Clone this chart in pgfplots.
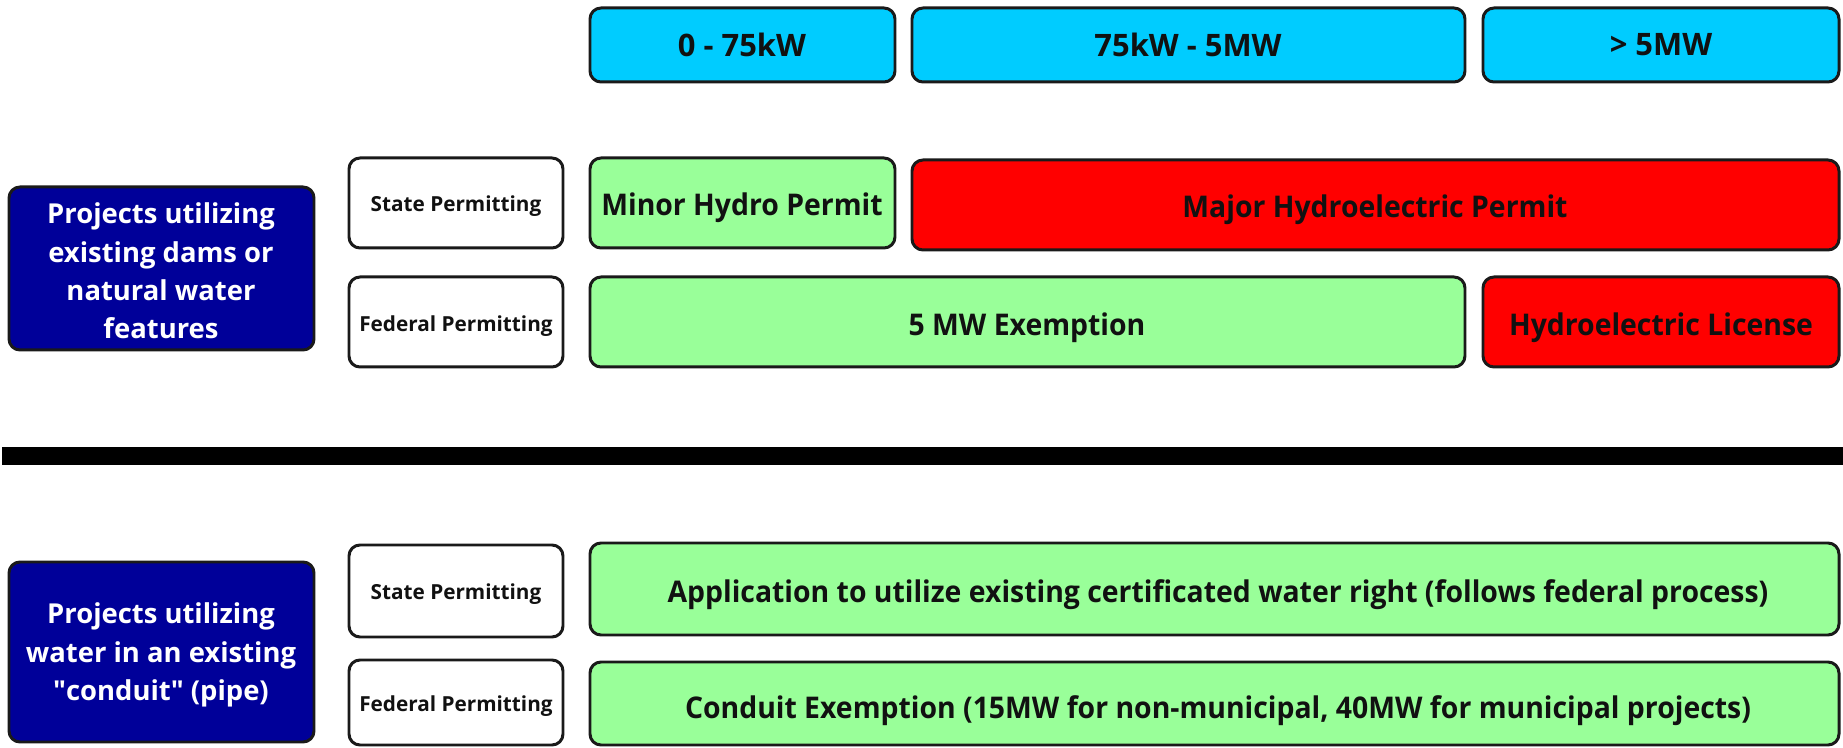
\documentclass[border=0pt]{standalone}
\usepackage{fontspec}
\setmainfont{Open Sans}
\newfontfamily\condfont{Open Sans}[FakeStretch=0.95]
\usepackage{pgfplots}
\pgfplotsset{compat=1.18}
\definecolor{hdr}{HTML}{00CCFF}
\definecolor{grn}{HTML}{99FF99}
\definecolor{rd}{HTML}{FF0000}
\definecolor{nav}{HTML}{000099}
\definecolor{edge}{HTML}{1A1A1A}
\definecolor{txt}{HTML}{111111}
% #1 fill, #2 x1, #3 y1, #4 x2, #5 y2, #6 mid x
\newcommand{\rbox}[6]{%
  \addplot[draw=edge, fill=#1, line width=0.85pt, rounded corners=1.1mm, mark=none]
    coordinates {(#6,#3) (#4,#3) (#4,#5) (#2,#5) (#2,#3)} -- cycle;}
\begin{document}
\begin{tikzpicture}
\begin{axis}[scale only axis, width=18.43cm, height=7.48cm,
  xmin=0, xmax=1843, ymin=0, ymax=748, y dir=reverse,
  hide axis, clip=false]
\path (rel axis cs:0,0) rectangle (rel axis cs:1,1);
% header boxes
\rbox{hdr}{590}{8}{895}{82}{742}
\rbox{hdr}{912}{8}{1465}{82}{1188}
\rbox{hdr}{1483}{8}{1839}{82}{1661}
% upper block
\rbox{nav}{9}{187}{314}{350}{161}
\rbox{white}{349}{158}{563}{248}{456}
\rbox{grn}{590}{158}{895}{248}{742}
\rbox{rd}{912}{160}{1839}{250}{1375}
\rbox{white}{349}{277}{563}{367}{456}
\rbox{grn}{590}{277}{1465}{367}{1027}
\rbox{rd}{1483}{277}{1839}{367}{1661}
% separator bar
\addplot[draw=none, fill=black, mark=none]
  coordinates {(2,447) (1843,447) (1843,465) (2,465)} -- cycle;
% lower block
\rbox{nav}{9}{562}{314}{742}{161}
\rbox{white}{349}{545}{563}{637}{456}
\rbox{grn}{590}{543}{1839}{635}{1214}
\rbox{white}{349}{660}{563}{745}{456}
\rbox{grn}{590}{662}{1839}{745}{1214}
% texts
\begin{scope}[every node/.style={text=txt, font=\bfseries, inner sep=0pt}]
\node[font=\fontsize{8.8}{10}\selectfont\bfseries] at (axis cs:742,45) {0 - 75kW};
\node[font=\fontsize{8.8}{10}\selectfont\bfseries] at (axis cs:1188,45) {75kW - 5MW};
\node[font=\fontsize{8.8}{10}\selectfont\bfseries] at (axis cs:1661,45) {> 5MW};
\node[font=\fontsize{5.9}{7}\selectfont\bfseries] at (axis cs:456,206) {State Permitting};
\node[font=\fontsize{5.9}{7}\selectfont\bfseries] at (axis cs:456,326) {Federal Permitting};
\node[font=\condfont\fontsize{8.5}{10}\selectfont\bfseries] at (axis cs:742,208) {Minor Hydro Permit};
\node[font=\condfont\fontsize{8.5}{10}\selectfont\bfseries] at (axis cs:1375,210) {Major Hydroelectric Permit};
\node[font=\condfont\fontsize{8.5}{10}\selectfont\bfseries] at (axis cs:1027,328) {5 MW Exemption};
\node[font=\condfont\fontsize{8.5}{10}\selectfont\bfseries] at (axis cs:1661,328) {Hydroelectric License};
\node[text=white, align=center, font=\fontsize{7.8}{10.9}\selectfont\bfseries] at (axis cs:161,271) {Projects utilizing\\existing dams or\\natural water\\features};
\node[font=\fontsize{5.9}{7}\selectfont\bfseries] at (axis cs:456,594) {State Permitting};
\node[font=\fontsize{5.9}{7}\selectfont\bfseries] at (axis cs:456,706) {Federal Permitting};
\node[font=\condfont\fontsize{8.5}{10}\selectfont\bfseries] at (axis cs:1218,595) {Application to utilize existing certificated water right (follows federal process)};
\node[font=\condfont\fontsize{8.5}{10}\selectfont\bfseries] at (axis cs:1218,711) {Conduit Exemption (15MW for non-municipal, 40MW for municipal projects)};
\node[text=white, align=center, font=\fontsize{7.8}{10.9}\selectfont\bfseries] at (axis cs:161,655) {Projects utilizing\\water in an existing\\\textquotedbl conduit\textquotedbl{} (pipe)};
\end{scope}
\end{axis}
\end{tikzpicture}
\end{document}
